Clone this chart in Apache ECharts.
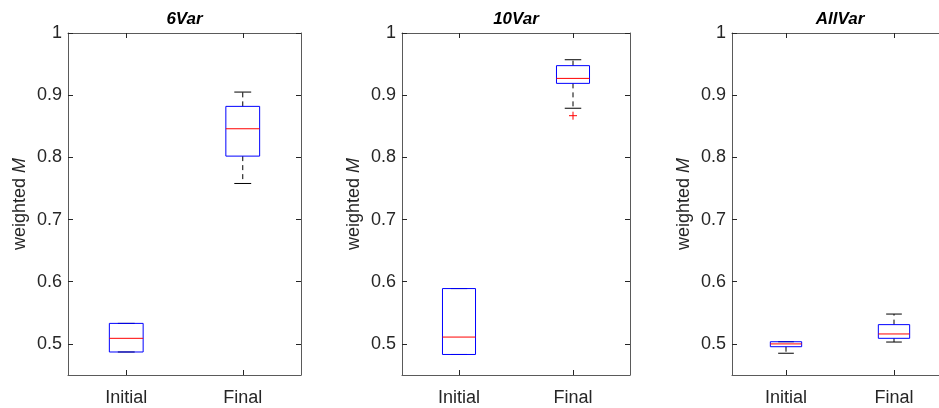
<!DOCTYPE html>
<html>
<head>
<meta charset="utf-8">
<title>weighted M boxplots</title>
<script src="https://cdn.jsdelivr.net/npm/echarts@6/dist/echarts.min.js"></script>
<style>
  html, body { margin: 0; padding: 0; background: #fff; }
  #chart { width: 939px; height: 408px; }
</style>
</head>
<body>
<div id="chart"></div>
<script>
// categories and panel titles
const categories = ['Initial', 'Final']
const titles = ['6Var', '10Var', 'AllVar']
const xTicks = [1, 2]
const yTicks = [0.5, 0.6, 0.7, 0.8, 0.9, 1]

// box stats per group: [lower whisker, q1, median, q3, upper whisker]
const stats6Var = [
  [0.487, 0.487, 0.509, 0.533, 0.533],
  [0.758, 0.802, 0.846, 0.882, 0.905]
]
const stats10Var = [
  [0.483, 0.483, 0.511, 0.589, 0.589],
  [0.879, 0.919, 0.927, 0.9475, 0.957]
]
const statsAllVar = [
  [0.485, 0.4955, 0.500, 0.5035, 0.5035],
  [0.503, 0.509, 0.516, 0.531, 0.548]
]
// outliers: [group position, value]
const outliers6Var = []
const outliers10Var = [[2, 0.867]]
const outliersAllVar = []

const panelStats = [stats6Var, stats10Var, statsAllVar]
const panelOutliers = [outliers6Var, outliers10Var, outliersAllVar]

// layout of the three axes boxes (px); the last one runs past the right edge
const grids = [
  { left: 68, top: 33, right: 638, bottom: 33, outerBoundsMode: 'none' },
  { left: 402, top: 33, right: 309, bottom: 33, outerBoundsMode: 'none' },
  { left: 732, top: 33, right: -9, bottom: 33, outerBoundsMode: 'none' }
]
const gridWidths = [233, 228, 216]

const textColor = '#262626'
const lineColor = '#5a5a5a'
const tickColor = '#262626'
const font = 'Liberation Sans, Helvetica, Arial, sans-serif'

function renderBox(params, api) {
  const x = api.value(0)
  const lo = api.coord([x, api.value(1)])
  const q1 = api.coord([x, api.value(2)])
  const med = api.coord([x, api.value(3)])
  const q3 = api.coord([x, api.value(4)])
  const hi = api.coord([x, api.value(5)])
  const w = api.size([1, 0])[0] * 0.29
  const cx = lo[0]
  const dash = { stroke: '#000', lineWidth: 1, lineDash: [5, 4] }
  const solid = { stroke: '#000', lineWidth: 1 }
  return {
    type: 'group',
    children: [
      { type: 'line', shape: { x1: cx, y1: q3[1], x2: cx, y2: hi[1] }, style: dash },
      { type: 'line', shape: { x1: cx, y1: q1[1], x2: cx, y2: lo[1] }, style: dash },
      { type: 'line', shape: { x1: cx - w / 4, y1: hi[1], x2: cx + w / 4, y2: hi[1] }, style: solid },
      { type: 'line', shape: { x1: cx - w / 4, y1: lo[1], x2: cx + w / 4, y2: lo[1] }, style: solid },
      {
        type: 'rect',
        shape: { x: cx - w / 2, y: q3[1], width: w, height: q1[1] - q3[1] },
        style: { fill: 'none', stroke: '#0000ff', lineWidth: 1 }
      },
      { type: 'line', shape: { x1: cx - w / 2, y1: med[1], x2: cx + w / 2, y2: med[1] }, style: { stroke: '#ff0000', lineWidth: 1 } }
    ]
  }
}

function renderOutlier(params, api) {
  const p = api.coord([api.value(0), api.value(1)])
  const s = 4
  const st = { stroke: '#ff0000', lineWidth: 1 }
  return {
    type: 'group',
    children: [
      { type: 'line', shape: { x1: p[0] - s, y1: p[1], x2: p[0] + s, y2: p[1] }, style: st },
      { type: 'line', shape: { x1: p[0], y1: p[1] - s, x2: p[0], y2: p[1] + s }, style: st }
    ]
  }
}

const option = {
  animation: false,
  title: [],
  grid: grids,
  xAxis: [],
  yAxis: [],
  series: []
}

// axis that only draws the frame line and inside ticks
function tickAxis(i, position, min, max, ticks) {
  return {
    type: 'value',
    gridIndex: i,
    position: position,
    min: min,
    max: max,
    axisLine: { show: true, onZero: false, lineStyle: { color: lineColor } },
    axisTick: { show: true, inside: true, length: 5, customValues: ticks, lineStyle: { color: tickColor } },
    axisLabel: { show: false },
    splitLine: { show: false }
  }
}

grids.forEach((g, i) => {
  option.title.push({
    text: titles[i],
    left: g.left + gridWidths[i] / 2,
    top: 11,
    padding: 0,
    textAlign: 'center',
    textStyle: { fontFamily: font, fontSize: 17, fontWeight: 'bold', fontStyle: 'italic', color: '#000' }
  })
  option.xAxis.push({
    type: 'value',
    gridIndex: i,
    position: 'bottom',
    min: 0.5,
    max: 2.5,
    axisLine: { show: true, onZero: false, lineStyle: { color: lineColor } },
    axisTick: { show: true, inside: true, length: 5, customValues: xTicks, lineStyle: { color: tickColor } },
    axisLabel: {
      color: textColor,
      fontFamily: font,
      fontSize: 18,
      margin: 14,
      customValues: xTicks,
      formatter: v => categories[Math.round(v) - 1]
    },
    splitLine: { show: false }
  })
  option.xAxis.push(tickAxis(i, 'top', 0.5, 2.5, xTicks))
  option.yAxis.push({
    type: 'value',
    gridIndex: i,
    position: 'left',
    min: 0.45,
    max: 1,
    name: '{n|weighted }{m|M}',
    nameLocation: 'middle',
    nameRotate: 90,
    nameGap: 39,
    nameTextStyle: {
      rich: {
        n: { fontFamily: font, fontSize: 18, color: textColor },
        m: { fontFamily: font, fontSize: 18, color: textColor, fontStyle: 'italic' }
      }
    },
    axisLine: { show: true, onZero: false, lineStyle: { color: lineColor } },
    axisTick: { show: true, inside: true, length: 5, customValues: yTicks, lineStyle: { color: tickColor } },
    axisLabel: { color: textColor, fontFamily: font, fontSize: 18, margin: 6, customValues: yTicks },
    splitLine: { show: false }
  })
  option.yAxis.push(tickAxis(i, 'right', 0.45, 1, yTicks))

  option.series.push({
    type: 'custom',
    xAxisIndex: i * 2,
    yAxisIndex: i * 2,
    renderItem: renderBox,
    encode: { x: 0, y: [1, 2, 3, 4, 5] },
    data: panelStats[i].map((s, k) => [xTicks[k]].concat(s))
  })
  option.series.push({
    type: 'custom',
    xAxisIndex: i * 2,
    yAxisIndex: i * 2,
    renderItem: renderOutlier,
    encode: { x: 0, y: 1 },
    data: panelOutliers[i]
  })
})

const myChart = echarts.init(document.getElementById('chart'))
myChart.setOption(option)
</script>
</body>
</html>
